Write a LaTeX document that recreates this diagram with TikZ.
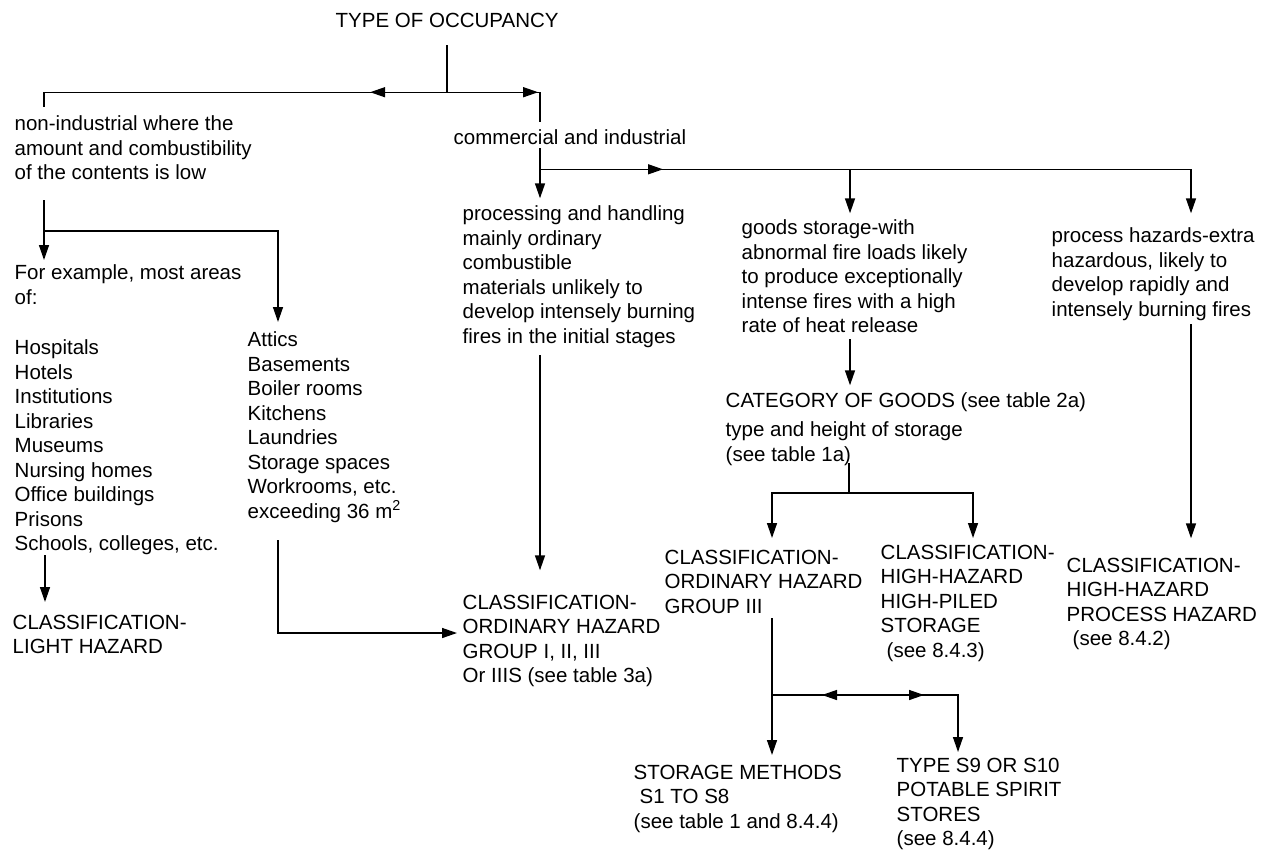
\documentclass[tikz,border=0pt]{standalone}
\usepackage{fontspec}
\setmainfont{Liberation Sans}
\usetikzlibrary{arrows.meta,decorations.markings}
\tikzset{
  tri/.tip={Triangle[length=15pt,width=10pt]},
  lbl/.style={inner sep=0pt, anchor=north west, align=left, font=\fontsize{20.5pt}{24.5pt}\selectfont},
  arr/.style={-tri},
  midarr/.style={postaction={decorate}, decoration={markings, mark=at position #1 with {\arrow{tri}}}},
}

\begin{document}
\begin{tikzpicture}[x=1pt, y=-1pt, line width=1.4pt]
\useasboundingbox (0,0) rectangle (1273,854);
\node[lbl] (occ) at (335,12.3) {TYPE OF OCCUPANCY};
\node[lbl] (nonind) at (14,115.3) {non-industrial where the\\amount and combustibility\\of the contents is low};
\node[lbl] (comm) at (453,129.3) {commercial and industrial};
\node[lbl] (example) at (14,264.3) {For example, most areas\\of:};
\node[lbl] (hosp) at (14,339.3) {Hospitals\\Hotels\\Institutions\\Libraries\\Museums\\Nursing homes\\Office buildings\\Prisons\\Schools, colleges, etc.};
\node[lbl] (attics) at (247,331.3) {Attics\\Basements\\Boiler rooms\\Kitchens\\Laundries\\Storage spaces\\Workrooms, etc.\\exceeding 36 m\textsuperscript{2}};
\node[lbl] (light) at (12,614.3) {CLASSIFICATION-\\LIGHT HAZARD};
\node[lbl] (proc) at (462,205.3) {processing and handling\\mainly ordinary\\combustible\\materials unlikely to\\develop intensely burning\\fires in the initial stages};
\node[lbl] (goods) at (741,219.3) {goods storage-with\\abnormal fire loads likely\\to produce exceptionally\\intense fires with a high\\rate of heat release};
\node[lbl] (prochaz) at (1051,227.3) {process hazards-extra\\hazardous, likely to\\develop rapidly and\\intensely burning fires};
\node[lbl] (cat) at (725,392.3) {CATEGORY OF GOODS (see table 2a)\\[4.5pt]type and height of storage\\(see table 1a)};
\node[lbl] (ord) at (462,594.3) {CLASSIFICATION-\\ORDINARY HAZARD\\GROUP I, II, III\\Or IIIS (see table 3a)};
\node[lbl] (ord3) at (664,549.3) {CLASSIFICATION-\\ORDINARY HAZARD\\GROUP III};
\node[lbl] (hpile) at (880,544.3) {CLASSIFICATION-\\HIGH-HAZARD\\HIGH-PILED\\STORAGE\\\hspace*{6pt}(see 8.4.3)};
\node[lbl] (phaz) at (1066,557.3) {CLASSIFICATION-\\HIGH-HAZARD\\PROCESS HAZARD\\\hspace*{6pt}(see 8.4.2)};
\node[lbl] (stor) at (633,764.3) {STORAGE METHODS\\\hspace*{6pt}S1 TO S8\\(see table 1 and 8.4.4)};
\node[lbl] (s9) at (896,757.3) {TYPE S9 OR S10\\POTABLE SPIRIT\\STORES\\(see 8.4.4)};

\coordinate (jtop) at ([yshift=-64pt]occ.south);
\coordinate (jleft) at ([shift={(30,115.7)}]nonind.north west);
\coordinate (jcomm) at ([shift={(87,40)}]comm.north west);
\coordinate (goodsin) at ([shift={(109,-6)}]goods.north west);
\coordinate (jcat) at ([shift={(124,100.7)}]cat.north west);
\coordinate (jord) at ([shift={(108,145.7)}]ord3.north west);

\draw[shorten <=17pt] (occ.south) -- (jtop);
\draw[midarr=77pt] (jtop) -| ([shift={(30,-8)}]nonind.north west);
\draw[midarr=91pt] (jtop) -| ([shift={(87,-7)}]comm.north west);
\draw[arr] ([shift={(30,84.7)}]nonind.north west) -- ([shift={(30,-4.3)}]example.north west);
\draw[arr] (jleft) -| ([shift={(31,-9.3)}]attics.north west);
\draw[arr] ([shift={(31,215.7)}]hosp.north west) -- ([shift={(33,-12.3)}]light.north west);
\draw[arr] ([shift={(31,208.7)}]attics.north west) |- ([shift={(-5,38.7)}]ord.north west);
\draw[arr] ([shift={(87,19)}]comm.north west) -- ([shift={(78,-7)}]proc.north west);
\draw[arr, midarr=123pt] (jcomm) -| ([shift={(140,-14)}]prochaz.north west);
\draw[arr] (jcomm -| goodsin) -- (goodsin);
\draw[arr] ([shift={(78,149.7)}]proc.north west) -- ([shift={(78,-24)}]ord.north west);
\draw[arr] ([shift={(109,119.7)}]goods.north west) -- ([shift={(125,-7)}]cat.north west);
\draw[arr] ([shift={(140,96.7)}]prochaz.north west) -- ([shift={(125,-19)}]phaz.north west);
\draw ([shift={(124,70.7)}]cat.north west) -- (jcat);
\draw[arr] (jcat) -| ([shift={(108,-11.3)}]ord3.north west);
\draw[arr] (jcat) -| ([shift={(93,-6.3)}]hpile.north west);
\draw[arr] ([shift={(108,68.7)}]ord3.north west) -- ([shift={(139,-9.3)}]stor.north west);
\draw[arr, postaction={decorate}, decoration={markings,
  mark=at position 50pt with {\arrowreversed{tri}},
  mark=at position 152pt with {\arrow{tri}}}]
  (jord) -| ([shift={(62,-5.3)}]s9.north west);
\end{tikzpicture}
\end{document}
